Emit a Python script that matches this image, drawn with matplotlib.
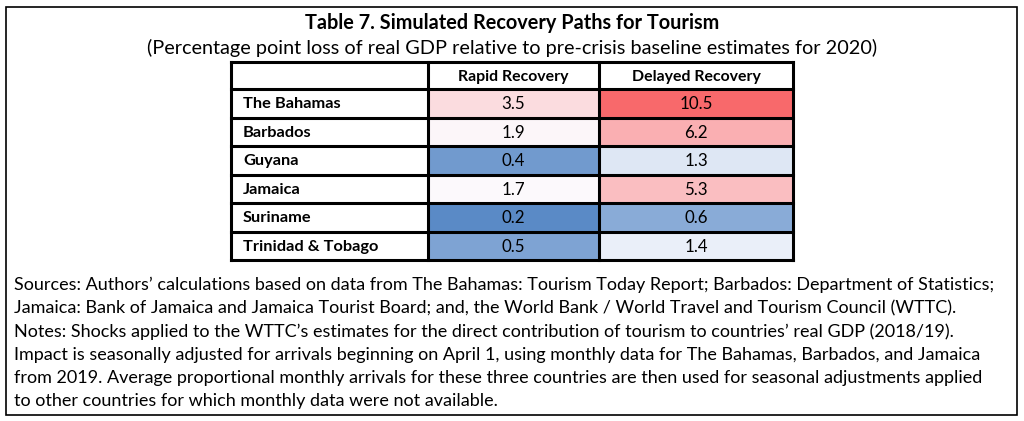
import numpy as np
import matplotlib
matplotlib.use("Agg")
from matplotlib import pyplot as plt
from matplotlib.colors import LinearSegmentedColormap, TwoSlopeNorm
from matplotlib.patches import Rectangle

title = "Table 7. Simulated Recovery Paths for Tourism"
subtitle = "(Percentage point loss of real GDP relative to pre-crisis baseline estimates for 2020)"
columns = ["Rapid Recovery", "Delayed Recovery"]
countries = ["The Bahamas", "Barbados", "Guyana", "Jamaica", "Suriname", "Trinidad & Tobago"]
rapid = [3.5, 1.9, 0.4, 1.7, 0.2, 0.5]
delayed = [10.5, 6.2, 1.3, 5.3, 0.6, 1.4]
notes = [
    "Sources: Authors\u2019 calculations based on data from The Bahamas: Tourism Today Report; Barbados: Department of Statistics;",
    "Jamaica: Bank of Jamaica and Jamaica Tourist Board; and, the World Bank / World Travel and Tourism Council (WTTC).",
    "Notes: Shocks applied to the WTTC\u2019s estimates for the direct contribution of tourism to countries\u2019 real GDP (2018/19).",
    "Impact is seasonally adjusted for arrivals beginning on April 1, using monthly data for The Bahamas, Barbados, and Jamaica",
    "from 2019. Average proportional monthly arrivals for these three countries are then used for seasonal adjustments applied",
    "to other countries for which monthly data were not available.",
]

plt.rcParams['font.family'] = ['Lato', 'DejaVu Sans']

values = np.array([rapid, delayed]).T

# excel style 3 colour scale: blue - white - red, midpoint at the median
cmap = LinearSegmentedColormap.from_list("excel", ["#5A8AC6", "#FCFCFF", "#F8696B"])
norm = TwoSlopeNorm(vmin=values.min(), vcenter=np.median(values), vmax=values.max())

fig = plt.figure(figsize=(10.24, 4.21), dpi=100)
ax = fig.add_axes([0, 0, 1, 1])
ax.set_xlim(0, 1024)
ax.set_ylim(421, 0)
ax.axis('off')

# outer frame
ax.add_patch(Rectangle((6, 7), 1011, 408, fill=False, lw=1.2, ec='black'))

ax.text(512, 23, title, ha='center', va='center', fontsize=14.3, fontweight='bold')
ax.text(512, 48, subtitle, ha='center', va='center', fontsize=14.3)

# table geometry (pixels)
col_edges = [231, 428, 599, 793]
top, head_h, row_h = 62, 27, 28.5

# header row
for j, name in enumerate(columns):
    xc = (col_edges[j + 1] + col_edges[j + 2]) / 2
    ax.text(xc, top + head_h / 2 + 1, name, ha='center', va='center', fontsize=11.4, fontweight='bold')

for i, country in enumerate(countries):
    y0 = top + head_h + i * row_h
    ax.text(col_edges[0] + 12, y0 + row_h / 2 + 1, country, ha='left', va='center',
            fontsize=11.8, fontweight='bold')
    for j in range(2):
        v = values[i, j]
        x0, x1 = col_edges[j + 1], col_edges[j + 2]
        ax.add_patch(Rectangle((x0, y0), x1 - x0, row_h, fc=cmap(norm(v)), ec='none'))
        ax.text((x0 + x1) / 2, y0 + row_h / 2 + 1, f"{v:.1f}", ha='center', va='center', fontsize=12.2)

# grid lines
bottom = top + head_h + len(countries) * row_h
for x in col_edges:
    ax.plot([x, x], [top, bottom], color='black', lw=2.2, solid_capstyle='projecting')
for k in range(len(countries) + 2):
    y = top if k == 0 else top + head_h + (k - 1) * row_h
    ax.plot([col_edges[0], col_edges[-1]], [y, y], color='black', lw=2.2, solid_capstyle='projecting')

for k, line in enumerate(notes):
    ax.text(14, 285 + k * 23.2, line, ha='left', va='center', fontsize=13.0)

fig.savefig("out.png", dpi=100)
